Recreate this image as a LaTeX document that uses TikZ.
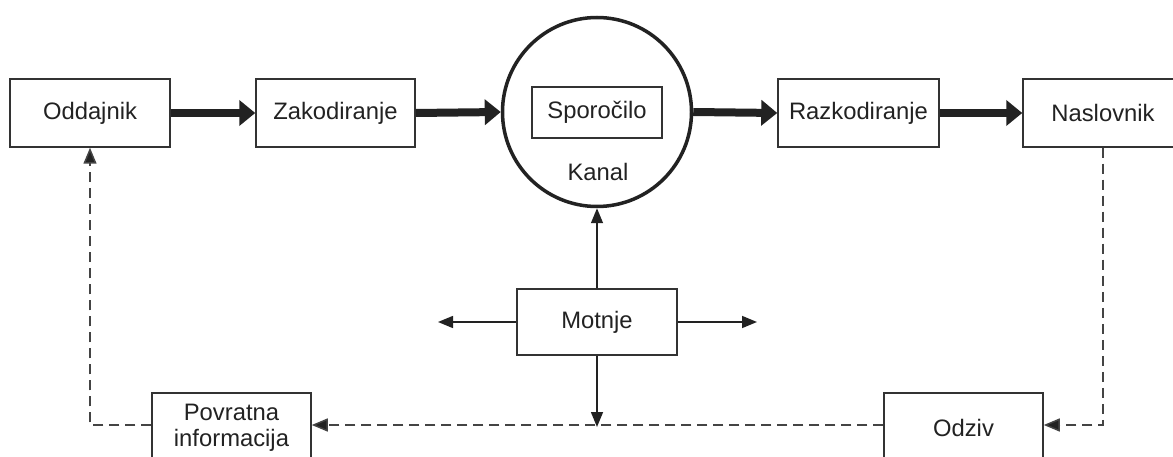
\documentclass[tikz,border=0pt]{standalone}
\usepackage{fontspec}
\setmainfont{Liberation Sans}
\usetikzlibrary{arrows.meta}
\definecolor{ink}{HTML}{222222}
\definecolor{edge}{HTML}{333333}
\definecolor{dash}{HTML}{444444}
\begin{document}
\begin{tikzpicture}[x=1pt,y=-1pt,
  box/.style={draw=edge,line width=1.5pt,minimum width=160pt,minimum height=68pt,inner sep=0pt,text=ink,font=\fontsize{23.8}{29}\selectfont,align=center},
  thick arrow/.style={line width=8pt,draw=ink,-{Triangle[length=16pt,width=25pt]}},
  thin arrow/.style={line width=1.5pt,draw=ink,-{Triangle[length=15pt,width=12pt]}},
  dashed line/.style={line width=1.5pt,draw=dash,dash pattern=on 10pt off 6pt},
  dashed arrow/.style={dashed line,-{Triangle[length=16pt,width=13pt,fill=ink]}}
]
\clip (0,0) rectangle (1173,457);
\fill[white] (0,0) rectangle (1173,457);

\node[box] (odd) at (90,113) {Oddajnik};
\node[box,minimum width=159pt] (zak) at (335.5,113) {Zakodiranje};
\node[circle,draw=ink,line width=3.5pt,minimum size=189pt,inner sep=0pt] (kan) at (597,112) {};
\node[box,minimum width=130pt,minimum height=51pt] (spo) at (597,112.5) {Sporočilo};
\node[text=ink,font=\fontsize{23.8}{29}\selectfont] (kl) at (598,172) {Kanal};
\node[box,minimum width=161pt] (raz) at (858.5,113) {Razkodiranje};
\node[box] (nas) at (1103,113) {Naslovnik};
\node[box,minimum height=66pt] (mot) at (597,322) {Motnje};
\node[box,minimum width=159pt,minimum height=70pt] (pov) at (231.5,428) {Povratna\\[-3pt]informacija};
\node[box,minimum width=159pt,minimum height=70pt] (odz) at (963.5,428) {Odziv};

\coordinate (ml) at (438,322);
\coordinate (mr) at (757,322);
\coordinate (md) at (597,427);
\coordinate (nc) at (1103,425);
\coordinate (oc) at (90,425);

\draw[thick arrow] (odd.east) -- (zak.west);
\draw[thick arrow] (zak.east) -- (kan.west);
\draw[thick arrow] (kan.east) -- (raz.west);
\draw[thick arrow] (raz.east) -- (nas.west);

\draw[thin arrow] (mot.north) -- (kan.south);
\draw[thin arrow] (mot.west) -- (ml);
\draw[thin arrow] (mot.east) -- (mr);
\draw[thin arrow] (mot.south) -- (md);

\draw[dashed arrow] (nas.south) -- (nc) -- (odz.east |- nc);
\draw[dashed arrow] (odz.west |- nc) -- (pov.east |- nc);
\draw[dashed arrow] (pov.west |- oc) -- (oc) -- (odd.south);
\end{tikzpicture}
\end{document}
